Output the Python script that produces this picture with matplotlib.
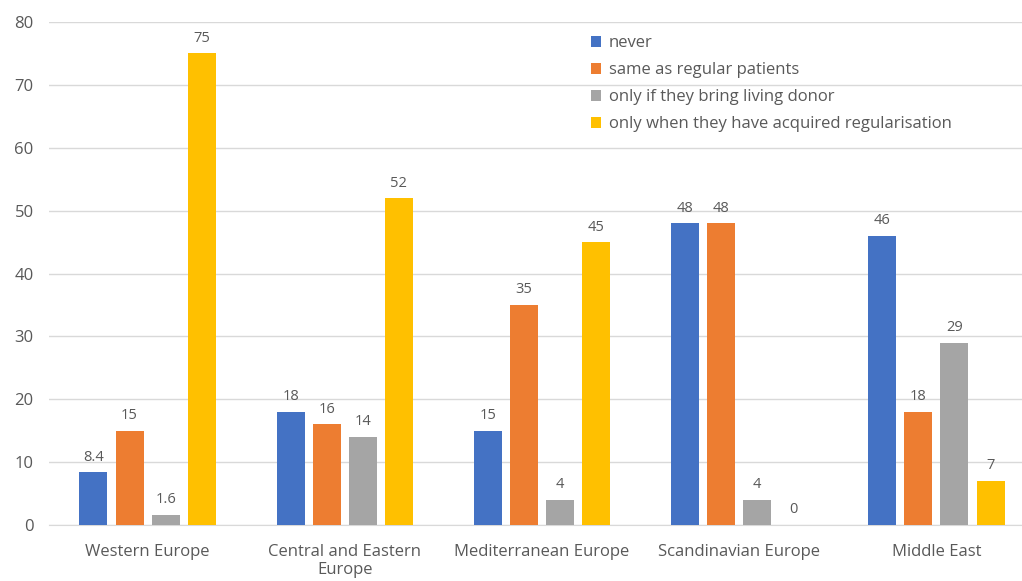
import matplotlib
matplotlib.use("Agg")
import matplotlib.pyplot as plt
import numpy as np

categories = ["Western Europe", "Central and Eastern\nEurope", "Mediterranean Europe",
              "Scandinavian Europe", "Middle East"]
series_names = ["never", "same as regular patients", "only if they bring living donor",
                "only when they have acquired regularisation"]
never = [8.4, 18, 15, 48, 46]
same = [15, 16, 35, 48, 18]
living = [1.6, 14, 4, 4, 29]
regular = [75, 52, 45, 0, 7]
labels = [["8.4", "18", "15", "48", "46"],
          ["15", "16", "35", "48", "18"],
          ["1.6", "14", "4", "4", "29"],
          ["75", "52", "45", "0", "7"]]
colors = ["#4472C4", "#ED7D31", "#A5A5A5", "#FFC000"]

plt.rcParams['font.family'] = ['Open Sans', 'DejaVu Sans']
txt = "#595959"

fig = plt.figure(figsize=(10.22, 5.81), dpi=100)
W, H = 1022, 581
left, right, top, bottom = 49, 1035, 22, 525
ax = fig.add_axes([left / W, (H - bottom) / H, (right - left) / W, (bottom - top) / H])

x = np.arange(len(categories))
bw = 0.142
step = 0.183
offsets = (np.arange(4) - 1.5) * step
for i, (vals, name) in enumerate(zip([never, same, living, regular], series_names)):
    bars = ax.bar(x + offsets[i], vals, bw, color=colors[i], label=name, zorder=3)
    for b, lab in zip(bars, labels[i]):
        ax.text(b.get_x() + b.get_width() / 2, b.get_height() + 1.2, lab,
                ha="center", va="bottom", fontsize=10.5, color=txt)

ax.set_xlim(-0.5, len(categories) - 0.5)
ax.set_ylim(0, 80)
ax.set_yticks(range(0, 81, 10))
ax.yaxis.grid(True, color="#D9D9D9", linewidth=1, zorder=0)
ax.set_axisbelow(True)
for s in ["top", "right", "left"]:
    ax.spines[s].set_visible(False)
ax.spines["bottom"].set_color("#D9D9D9")
ax.tick_params(axis="both", length=0, labelsize=12, colors=txt)
ax.tick_params(axis="y", pad=11)
ax.tick_params(axis="x", pad=14)
ax.set_xticks(x)
ax.set_xticklabels(categories, linespacing=1.15)

leg = ax.legend(loc="upper left", bbox_to_anchor=(0.534, 1.003), frameon=False,
                fontsize=12, handlelength=0.65, handleheight=0.65, handletextpad=0.45,
                labelspacing=0.66, labelcolor=txt)

fig.savefig("out.png", dpi=100)
